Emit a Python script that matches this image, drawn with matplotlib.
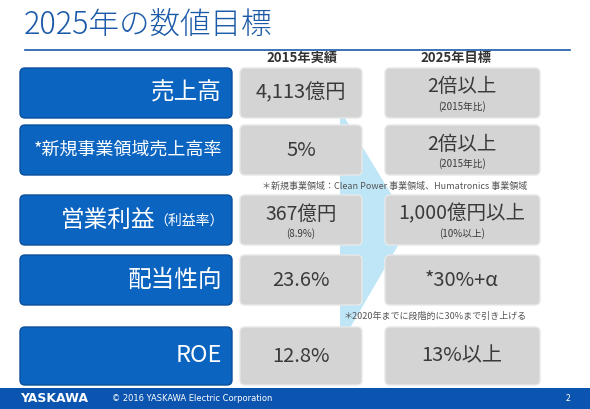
import matplotlib
matplotlib.use("Agg")
import matplotlib.pyplot as plt
from matplotlib.patches import FancyBboxPatch, Polygon, Rectangle

plt.rcParams['font.family'] = ['Noto Sans CJK JP', 'DejaVu Sans']

title = "2025年の数値目標"
headers = ["2015年実績", "2025年目標"]
labels = ["売上高", "*新規事業領域売上高率", "営業利益", "配当性向", "ROE"]
label_sub = ["", "", "（利益率）", "", ""]
actual = ["4,113億円", "5%", "367億円", "23.6%", "12.8%"]
actual_sub = ["", "", "(8.9%)", "", ""]
target = ["2倍以上", "2倍以上", "1,000億円以上", "*30%+α", "13%以上"]
target_sub = ["(2015年比)", "(2015年比)", "(10%以上)", "", ""]
notes = {1: "＊新規事業領域：Clean Power 事業領域、Humatronics 事業領域",
         3: "＊2020年までに段階的に30%まで引き上げる"}

row_y = [(68, 118), (125, 175), (195, 245), (255, 305), (327, 385)]

fig = plt.figure(figsize=(5.9, 4.09), dpi=100)
ax = fig.add_axes([0, 0, 1, 1])
ax.set_xlim(0, 590); ax.set_ylim(409, 0); ax.axis('off')
fig.patch.set_facecolor('white')

ax.text(24, 26, title, fontsize=22, color='#1a5aa8', va='center', ha='left', fontweight='light')
ax.plot([25, 570], [50, 50], color='#1a5aa8', lw=1.2)
ax.text(302, 58, headers[0], fontsize=9.5, fontweight='bold', color='#333333', ha='center', va='center')
ax.text(456, 58, headers[1], fontsize=9.5, fontweight='bold', color='#333333', ha='center', va='center')

ax.add_patch(Polygon([(340, 110), (410, 225), (340, 345)], closed=True,
                     facecolor='#aee0f5', edgecolor='none', alpha=0.8, zorder=1))

def box(x0, x1, y0, y1, fc, ec):
    ax.add_patch(FancyBboxPatch((x0 + 5, y0 + 5), x1 - x0 - 10, y1 - y0 - 10,
                                boxstyle="round,pad=5", facecolor=fc, edgecolor=ec, lw=1, zorder=2))

vc = '#3a3a3a'
for i, (y0, y1) in enumerate(row_y):
    yc = (y0 + y1) / 2
    box(20, 232, y0, y1, '#0b64c0', '#0a4f9a')
    box(240, 362, y0, y1, '#d4d4d4', '#e8e8e8')
    box(385, 540, y0, y1, '#d4d4d4', '#e8e8e8')
    if label_sub[i]:
        ax.text(155, yc, labels[i], fontsize=17, color='white', ha='right', va='center', zorder=3)
        ax.text(224, yc + 1, label_sub[i], fontsize=10, color='white', ha='right', va='center', zorder=3)
    else:
        fs = 13 if len(labels[i]) > 5 else 17
        ax.text(222, yc, labels[i], fontsize=fs, color='white', ha='right', va='center', zorder=3)
    if actual_sub[i]:
        ax.text(301, yc - 6, actual[i], fontsize=14, color=vc, ha='center', va='center', zorder=3)
        ax.text(301, yc + 14, actual_sub[i], fontsize=7, color=vc, ha='center', va='center', zorder=3)
    else:
        ax.text(301, yc, actual[i], fontsize=14.5, color=vc, ha='center', va='center', zorder=3)
    if target_sub[i]:
        ax.text(462, yc - 6, target[i], fontsize=14, color=vc, ha='center', va='center', zorder=3)
        ax.text(462, yc + 14, target_sub[i], fontsize=7, color=vc, ha='center', va='center', zorder=3)
    else:
        ax.text(462, yc, target[i], fontsize=14.5, color=vc, ha='center', va='center', zorder=3)
    if i in notes:
        ax.text(527, y1 + 11, notes[i], fontsize=6.5, color='#555555', ha='right', va='center', zorder=3)

ax.add_patch(Rectangle((0, 388), 590, 21, facecolor='#0b55b0', edgecolor='none', zorder=4))
ax.text(20, 398.5, "YASKAWA", fontsize=9, fontweight='bold', color='white', va='center', zorder=5, family='DejaVu Sans')
ax.text(112, 398.5, "© 2016 YASKAWA Electric Corporation", fontsize=6, color='white', va='center', zorder=5, family='DejaVu Sans')
ax.text(570, 398.5, "2", fontsize=6, color='white', va='center', ha='right', zorder=5)

fig.savefig("out.png", dpi=100)
